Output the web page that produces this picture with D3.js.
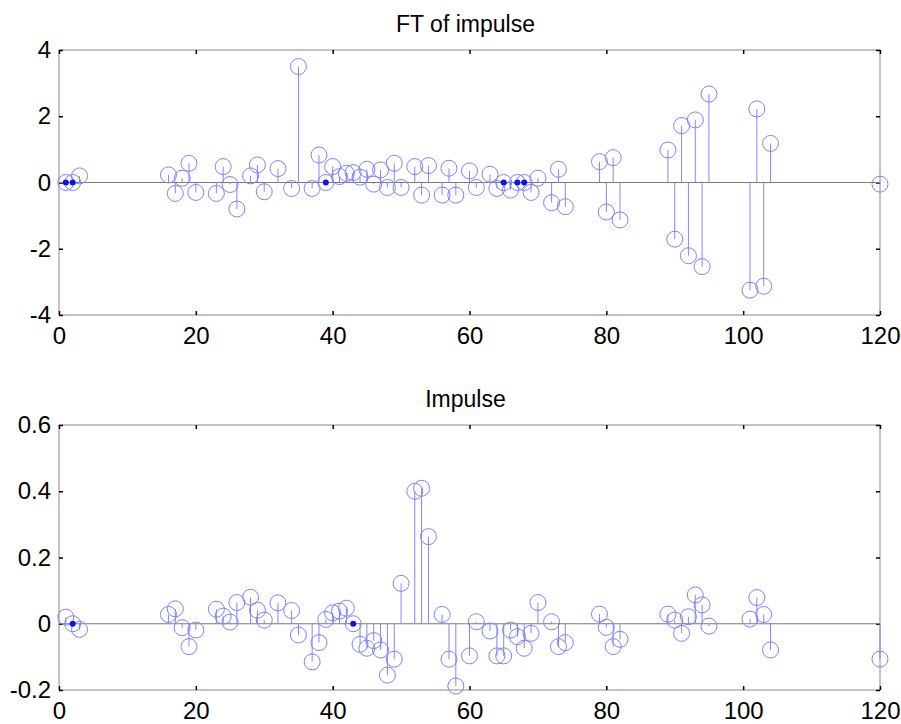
<!DOCTYPE html>
<html>
<head>
<meta charset="utf-8">
<script src="https://cdn.jsdelivr.net/npm/d3@7"></script>
<style>
  body { margin: 0; background: #fff; }
  text { font-family: "Liberation Sans", Arial, sans-serif; }
</style>
</head>
<body>
<div id="chart"></div>
<script>
// sample indices shared by both panels
const idx = [1, 2, 3, 16, 17, 18, 19, 20, 23, 24, 25, 26, 28, 29, 30, 32, 34, 35, 37, 38,
             39, 40, 41, 42, 43, 44, 45, 46, 47, 48, 49, 50, 52, 53, 54, 56, 57, 58, 60, 61,
             63, 64, 65, 66, 67, 68, 69, 70, 72, 73, 74, 79, 80, 81, 82, 89, 90, 91, 92, 93,
             94, 95, 101, 102, 103, 104, 120];

const ftValues = [0, 0, 0.2, 0.23, -0.33, 0.13, 0.58, -0.30, -0.33, 0.48, -0.06, -0.80, 0.2, 0.53, -0.28, 0.42, -0.18, 3.5, -0.18, 0.83,
                  0, 0.48, 0.18, 0.28, 0.30, 0.16, 0.40, -0.05, 0.38, -0.15, 0.58, -0.15, 0.48, -0.38, 0.51, -0.38, 0.43, -0.38, 0.35, -0.15,
                  0.25, -0.18, 0, -0.23, 0, 0, -0.3, 0.13, -0.61, 0.40, -0.73, 0.63, -0.89, 0.75, -1.13, 0.98, -1.71, 1.72, -2.21, 1.89,
                  -2.54, 2.67, -3.25, 2.22, -3.13, 1.18, -0.05];

const impulseValues = [0.02, 0, -0.017, 0.028, 0.045, -0.012, -0.069, -0.019, 0.044, 0.023, 0.005, 0.064, 0.08, 0.041, 0.011, 0.063, 0.04, -0.034, -0.115, -0.057,
                       0.013, 0.033, 0.038, 0.047, 0, -0.062, -0.074, -0.051, -0.079, -0.155, -0.107, 0.122, 0.40, 0.409, 0.263, 0.028, -0.107, -0.188, -0.097, 0.006,
                       -0.022, -0.097, -0.097, -0.019, -0.039, -0.074, -0.029, 0.064, 0.006, -0.069, -0.057, 0.029, -0.011, -0.069, -0.047, 0.029, 0.011, -0.029, 0.021, 0.087,
                       0.057, -0.007, 0.014, 0.079, 0.028, -0.079, -0.107];

// filled markers (zero-valued samples)
const ftDots = [1, 2, 39, 65, 67, 68];
const impulseDots = [2, 43];

const xTicks = [0, 20, 40, 60, 80, 100, 120];
const ftTicks = [-4, -2, 0, 2, 4];
const impulseTicks = [-0.2, 0, 0.2, 0.4, 0.6];

const W = 901, H = 724;
const svg = d3.select("#chart").append("svg")
    .attr("width", W)
    .attr("height", H);

function panel(opts) {
    const x = d3.scaleLinear().domain([0, 120]).range([59, 880]);
    const y = d3.scaleLinear().domain(opts.yDomain).range([opts.bottom, opts.top]);
    const g = svg.append("g");

    // frame
    g.append("rect")
     .attr("x", x(0)).attr("y", opts.top)
     .attr("width", x(120) - x(0)).attr("height", opts.bottom - opts.top)
     .attr("fill", "none").attr("stroke", "#8a8a8a").attr("stroke-width", 1);

    const fmt = d => d === 0 ? "0" : String(d);
    const tickStyle = sel => {
        sel.select(".domain").remove();
        sel.selectAll(".tick line").attr("stroke", "#000").attr("stroke-width", 1.5);
        sel.selectAll(".tick text").attr("fill", "#000").style("font-size", "24px");
    };

    g.append("g").attr("transform", `translate(0,${opts.bottom})`)
     .call(d3.axisBottom(x).tickValues(xTicks).tickSize(-4).tickPadding(10).tickFormat(fmt))
     .call(tickStyle)
     .selectAll(".tick text").attr("dy", "0.78em");
    g.append("g").attr("transform", `translate(0,${opts.top})`)
     .call(d3.axisTop(x).tickValues(xTicks).tickSize(-4).tickFormat(""))
     .call(tickStyle);
    g.append("g").attr("transform", `translate(${x(0)},0)`)
     .call(d3.axisLeft(y).tickValues(opts.yTicks).tickSize(-4).tickPadding(8).tickFormat(fmt))
     .call(tickStyle);
    g.append("g").attr("transform", `translate(${x(120)},0)`)
     .call(d3.axisRight(y).tickValues(opts.yTicks).tickSize(-4).tickFormat(""))
     .call(tickStyle);

    // zero baseline
    g.append("line")
     .attr("x1", x(0)).attr("x2", x(120))
     .attr("y1", y(0)).attr("y2", y(0))
     .attr("stroke", "#7a7a7a").attr("stroke-width", 1);

    const pts = opts.index.map((d, i) => ({ n: d, v: opts.values[i] }));

    g.append("g").selectAll("line")
     .data(pts).enter().append("line")
     .attr("x1", d => x(d.n)).attr("x2", d => x(d.n))
     .attr("y1", y(0)).attr("y2", d => y(d.v))
     .attr("stroke", "#8585ff").attr("stroke-width", 1);

    g.append("g").selectAll("circle")
     .data(pts).enter().append("circle")
     .attr("cx", d => x(d.n)).attr("cy", d => y(d.v))
     .attr("r", 8)
     .attr("fill", "none").attr("stroke", "#8080ff").attr("stroke-width", 1);

    g.append("g").selectAll("circle")
     .data(opts.dots).enter().append("circle")
     .attr("cx", d => x(d)).attr("cy", y(0))
     .attr("r", 3)
     .attr("fill", "#1010ee");

    svg.append("text")
       .attr("x", (x(0) + x(120)) / 2 - 4).attr("y", opts.top - 18)
       .attr("text-anchor", "middle")
       .style("font-size", "23px")
       .text(opts.title);
}

panel({ title: "FT of impulse", top: 50, bottom: 315, yDomain: [-4, 4], yTicks: ftTicks,
        index: idx, values: ftValues, dots: ftDots });
panel({ title: "Impulse", top: 425, bottom: 690, yDomain: [-0.2, 0.6], yTicks: impulseTicks,
        index: idx, values: impulseValues, dots: impulseDots });
</script>
</body>
</html>
